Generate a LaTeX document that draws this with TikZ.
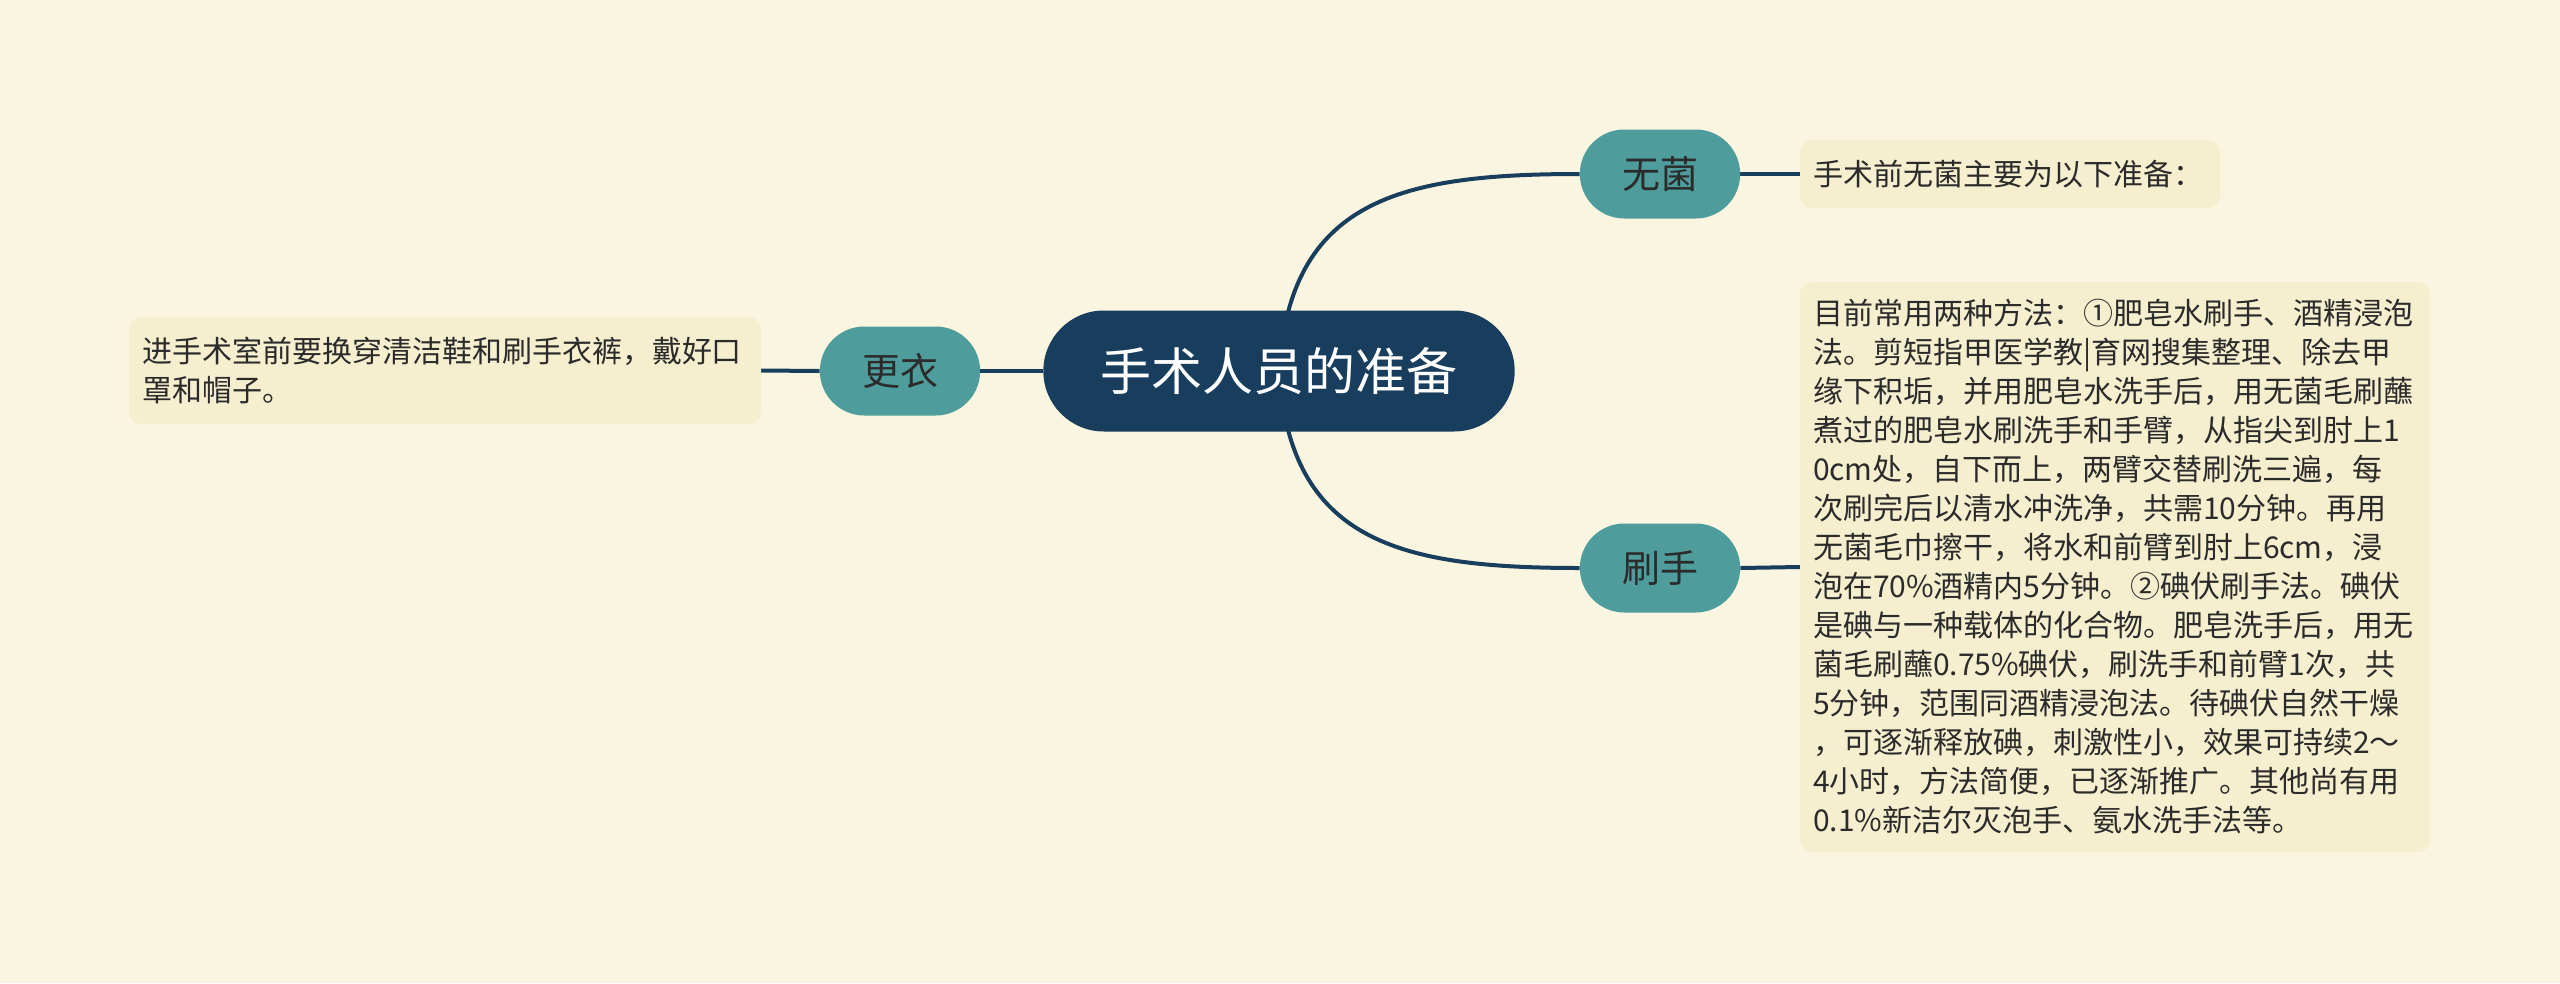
\documentclass[tikz,border=0pt]{standalone}
\usepackage{fontspec}
\newfontfamily\cjk{Noto Sans CJK SC}
\usetikzlibrary{shapes.misc,backgrounds}
\definecolor{bgcol}{HTML}{FAF5E1}
\definecolor{boxcol}{HTML}{F5EFCF}
\definecolor{rootcol}{HTML}{183D5D}
\definecolor{tealcol}{HTML}{4E9C9C}
\definecolor{linecol}{HTML}{183D5D}
\definecolor{txtcol}{HTML}{2B2B2B}
\tikzset{
  rootnode/.style={rounded rectangle, fill=rootcol, text=white, minimum width=478, minimum height=121,
    font=\cjk\fontsize{51pt}{60pt}\selectfont},
  topic/.style={rounded rectangle, fill=tealcol, text=txtcol, minimum width=167, minimum height=89,
    font=\cjk\fontsize{38pt}{44pt}\selectfont},
  note/.style={rectangle, rounded corners=12, fill=boxcol, text=txtcol, align=left, inner xsep=13, inner ysep=0,
    font=\cjk\fontsize{30pt}{39pt}\selectfont},
  conn/.style={draw=linecol, line width=4}
}
\begin{document}
\begin{tikzpicture}[x=1pt,y=-1pt]
\useasboundingbox (0,0) rectangle (2560,983);
\node[rootnode] (root) at (1279,371) {手术人员的准备};
\node[topic] (wj) at (1660,174) {无菌};
\node[topic] (ss) at (1660,568) {刷手};
\node[topic] (gy) at (900,371) {更衣};
\node[note, minimum width=420, minimum height=68, text width=394] (wjt) at (2010,174) {手术前无菌主要为以下准备：};
\node[note, minimum width=632, minimum height=107, text width=606] (gyt) at (445,370.5) {进手术室前要换穿清洁鞋和刷手衣裤，戴好口\\罩和帽子。};
\node[note, minimum width=630, minimum height=570, text width=604] (sst) at (2115,567) {目前常用两种方法：①肥皂水刷手、酒精浸泡\\
法。剪短指甲医学教|育网搜集整理、除去甲\\
缘下积垢，并用肥皂水洗手后，用无菌毛刷蘸\\
煮过的肥皂水刷洗手和手臂，从指尖到肘上1\\
0cm处，自下而上，两臂交替刷洗三遍，每\\
次刷完后以清水冲洗净，共需10分钟。再用\\
无菌毛巾擦干，将水和前臂到肘上6cm，浸\\
泡在70\%酒精内5分钟。②碘伏刷手法。碘伏\\
是碘与一种载体的化合物。肥皂洗手后，用无\\
菌毛刷蘸0.75\%碘伏，刷洗手和前臂1次，共\\
5分钟，范围同酒精浸泡法。待碘伏自然干燥\\
，可逐渐释放碘，刺激性小，效果可持续2～\\
4小时，方法简便，已逐渐推广。其他尚有用\\
0.1\%新洁尔灭泡手、氨水洗手法等。};
\begin{scope}[on background layer]
\fill[bgcol] (0,0) rectangle (2560,983);
\draw[conn] (root.center) .. controls (1290,200) and (1400,174) .. (wj.west);
\draw[conn] (root.center) .. controls (1290,542) and (1400,568) .. (ss.west);
\draw[conn] (gy.east) -- (root.west);
\draw[conn] (gyt.east) -- (gy.west);
\draw[conn] (wj.east) -- (wjt.west);
\draw[conn] (ss.east) -- (sst.west);
\end{scope}
\end{tikzpicture}
\end{document}
